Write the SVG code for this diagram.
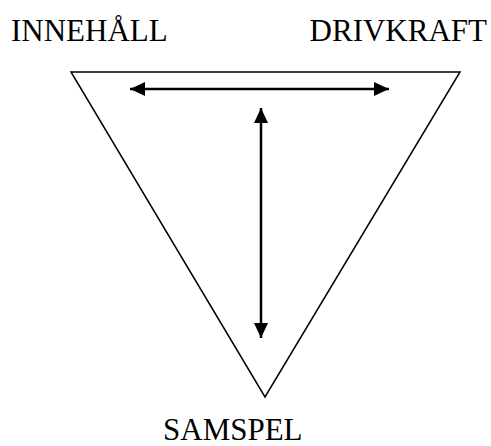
<svg xmlns="http://www.w3.org/2000/svg" width="491" height="446" viewBox="0 0 491 446">
<style>
.t{font-family:"Liberation Serif","Times New Roman",serif;font-size:31px;fill:#000}
.c{stroke:#000;stroke-width:2.5;fill:none}
</style>
<defs>
<marker id="ah" viewBox="0 0 15 14" refX="15" refY="7" markerWidth="15" markerHeight="14" markerUnits="userSpaceOnUse" orient="auto-start-reverse">
<path d="M0,0 L15,7 L0,14 Z" fill="#000"/>
</marker>
</defs>
<rect width="491" height="446" fill="#fff"/>
<g id="triangle"><polygon points="71,72 460,72 265,397" fill="none" stroke="#000" stroke-width="1.5"/></g>
<g id="innehall"><text class="t" x="11" y="41">INNEHÅLL</text></g>
<g id="drivkraft"><text class="t" x="487" y="41" text-anchor="end">DRIVKRAFT</text></g>
<g id="samspel"><text class="t" x="163" y="440">SAMSPEL</text></g>
<g id="connectors">
<line class="c" x1="130" y1="89" x2="389" y2="89" marker-start="url(#ah)" marker-end="url(#ah)"/>
<line class="c" x1="261" y1="108" x2="261" y2="338" marker-start="url(#ah)" marker-end="url(#ah)"/>
</g>
</svg>
